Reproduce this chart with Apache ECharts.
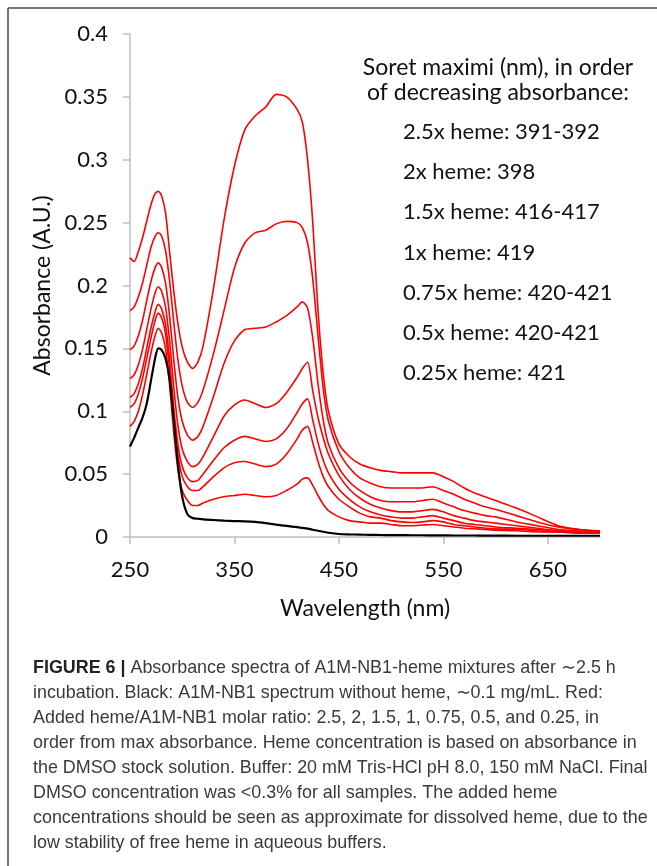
<!DOCTYPE html>
<html>
<head>
<meta charset="utf-8">
<script src="https://cdn.jsdelivr.net/npm/echarts@6/dist/echarts.min.js"></script>
<style>
  html, body { margin: 0; padding: 0; background: #fff; }
  #chart { width: 657px; height: 866px; }
</style>
</head>
<body>
<div id="chart"></div>
<script>
const wavelengths = [250,254,258,262,266,270,274,277,280,284,288,292,296,300,305,310,315,320,330,340,350,360,370,380,390,400,410,415,420,425,430,435,440,450,460,470,480,490,500,510,520,530,540,550,560,570,580,590,600,620,640,660,680,700];

const noHeme = [0.072,0.079,0.087,0.095,0.106,0.124,0.142,0.150,0.149,0.142,0.125,0.092,0.057,0.032,0.018,0.015,0.0145,0.014,0.0135,0.013,0.0127,0.0125,0.012,0.011,0.0098,0.0088,0.0078,0.0072,0.0066,0.0058,0.005,0.0042,0.0034,0.0024,0.0021,0.0019,0.0017,0.0016,0.0015,0.0015,0.0014,0.0014,0.0013,0.0013,0.0012,0.0012,0.0012,0.0011,0.0011,0.001,0.001,0.001,0.001,0.001];

const heme2_5x = [0.222,0.219,0.227,0.238,0.251,0.264,0.273,0.275,0.272,0.258,0.226,0.195,0.169,0.151,0.139,0.134,0.139,0.152,0.198,0.252,0.295,0.324,0.335,0.342,0.352,0.350,0.340,0.330,0.300,0.250,0.180,0.130,0.100,0.074,0.064,0.058,0.055,0.053,0.052,0.051,0.051,0.051,0.051,0.048,0.044,0.039,0.035,0.032,0.029,0.023,0.016,0.009,0.006,0.004];

const heme2x = [0.180,0.183,0.191,0.202,0.216,0.230,0.239,0.242,0.240,0.228,0.203,0.170,0.140,0.120,0.107,0.103,0.107,0.117,0.146,0.180,0.214,0.234,0.242,0.244,0.249,0.251,0.250,0.246,0.234,0.205,0.160,0.118,0.092,0.068,0.055,0.047,0.043,0.040,0.039,0.039,0.039,0.039,0.040,0.037,0.034,0.030,0.027,0.024,0.022,0.017,0.012,0.008,0.006,0.005];

const heme1_5x = [0.149,0.152,0.160,0.172,0.188,0.203,0.214,0.218,0.215,0.202,0.175,0.140,0.110,0.092,0.081,0.077,0.080,0.088,0.112,0.138,0.156,0.165,0.166,0.167,0.171,0.176,0.183,0.187,0.182,0.158,0.122,0.093,0.074,0.055,0.044,0.037,0.032,0.029,0.028,0.028,0.028,0.029,0.030,0.027,0.024,0.021,0.019,0.017,0.016,0.012,0.009,0.006,0.005,0.004];

const heme1x = [0.126,0.129,0.137,0.149,0.165,0.181,0.194,0.199,0.196,0.183,0.155,0.118,0.088,0.070,0.060,0.056,0.058,0.064,0.080,0.096,0.105,0.109,0.106,0.103,0.106,0.115,0.127,0.134,0.139,0.116,0.095,0.079,0.066,0.049,0.038,0.031,0.026,0.023,0.021,0.020,0.020,0.021,0.022,0.020,0.017,0.015,0.013,0.012,0.011,0.009,0.007,0.005,0.004,0.004];

const heme0_75x = [0.111,0.114,0.122,0.134,0.150,0.166,0.179,0.185,0.182,0.169,0.140,0.102,0.073,0.056,0.047,0.044,0.045,0.050,0.061,0.071,0.077,0.080,0.078,0.076,0.078,0.086,0.099,0.106,0.110,0.093,0.075,0.061,0.051,0.038,0.030,0.024,0.020,0.0175,0.016,0.015,0.015,0.016,0.017,0.015,0.013,0.011,0.010,0.009,0.008,0.007,0.006,0.005,0.004,0.004];

const heme0_5x = [0.103,0.106,0.114,0.126,0.142,0.158,0.172,0.178,0.175,0.162,0.132,0.094,0.065,0.048,0.040,0.037,0.037,0.040,0.048,0.055,0.059,0.060,0.058,0.056,0.058,0.066,0.078,0.085,0.088,0.075,0.060,0.048,0.040,0.030,0.024,0.019,0.016,0.015,0.013,0.012,0.0115,0.012,0.013,0.012,0.010,0.009,0.008,0.007,0.0065,0.006,0.005,0.004,0.004,0.003];

const heme0_25x = [0.088,0.092,0.100,0.113,0.129,0.146,0.160,0.166,0.163,0.150,0.120,0.082,0.053,0.037,0.029,0.025,0.025,0.027,0.030,0.032,0.033,0.034,0.033,0.032,0.033,0.037,0.042,0.046,0.047,0.041,0.033,0.026,0.021,0.016,0.013,0.012,0.011,0.011,0.010,0.009,0.009,0.0095,0.010,0.009,0.008,0.007,0.0065,0.006,0.0055,0.005,0.004,0.004,0.003,0.003];

const xTicks = [250, 350, 450, 550, 650];
const yTicks = [0, 0.05, 0.1, 0.15, 0.2, 0.25, 0.3, 0.35, 0.4];

const annotationHead = ['Soret maximi (nm), in order', 'of decreasing absorbance:'];
const annotationLines = ['2.5x heme: 391-392', '2x heme: 398', '1.5x heme: 416-417', '1x heme: 419', '0.75x heme: 420-421', '0.5x heme: 420-421', '0.25x heme: 421'];

const captionBold = 'FIGURE 6 |';
const captionLines = [
  ' Absorbance spectra of A1M-NB1-heme mixtures after \u223c2.5 h',
  'incubation. Black: A1M-NB1 spectrum without heme, \u223c0.1 mg/mL. Red:',
  'Added heme/A1M-NB1 molar ratio: 2.5, 2, 1.5, 1, 0.75, 0.5, and 0.25, in',
  'order from max absorbance. Heme concentration is based on absorbance in',
  'the DMSO stock solution. Buffer: 20 mM Tris-HCl pH 8.0, 150 mM NaCl. Final',
  'DMSO concentration was <0.3% for all samples. The added heme',
  'concentrations should be seen as approximate for dissolved heme, due to the',
  'low stability of free heme in aqueous buffers.'
];

const redSeries = [heme2_5x, heme2x, heme1_5x, heme1x, heme0_75x, heme0_5x, heme0_25x];
const redNames = ['2.5x heme', '2x heme', '1.5x heme', '1x heme', '0.75x heme', '0.5x heme', '0.25x heme'];

function pairs(vals) { return wavelengths.map((w, i) => [w, vals[i]]); }

const series = redSeries.map((vals, i) => ({
  name: redNames[i], type: 'line', data: pairs(vals), showSymbol: false,
  smooth: 0.25,
  lineStyle: { color: '#ff0000', width: 1.6 }, z: 2
}));
series.push({
  name: 'no heme', type: 'line', data: pairs(noHeme), showSymbol: false,
  smooth: 0.25,
  lineStyle: { color: '#000000', width: 2.2 }, z: 3
});

const FONT = 'Lato';
const graphic = [];
graphic.push({ type: 'line', shape: { x1: 8, y1: 8, x2: 660, y2: 8 }, style: { stroke: '#4a4a4a', lineWidth: 1.5 }, silent: true });
graphic.push({ type: 'line', shape: { x1: 8, y1: 8, x2: 8, y2: 870 }, style: { stroke: '#4a4a4a', lineWidth: 1.5 }, silent: true });

const headY = [68, 93];
annotationHead.forEach((t, i) => {
  graphic.push({ type: 'text', x: 498, y: headY[i], style: { text: t, font: '23px ' + FONT, fill: '#111', align: 'center', verticalAlign: 'middle' } });
});
annotationLines.forEach((t, i) => {
  graphic.push({ type: 'text', x: 403, y: 132 + i * 40.2, style: { text: t, font: '22px ' + FONT, fill: '#111', align: 'left', verticalAlign: 'middle' } });
});

captionLines.forEach((t, i) => {
  const txt = i === 0 ? '{b|' + captionBold + '}' + t : t;
  graphic.push({ type: 'text', x: 33, y: 668 + i * 25, style: {
    text: txt, font: '17.9px "Liberation Sans"', fill: '#3a3a3a', align: 'left', verticalAlign: 'middle',
    rich: { b: { fontWeight: 'bold', fontSize: 17.9, fontFamily: 'Liberation Sans', fill: '#222' } }
  } });
});

const chart = echarts.init(document.getElementById('chart'), null, { renderer: 'canvas' });
chart.setOption({
  animation: false,
  backgroundColor: '#ffffff',
  grid: { left: 130, top: 34, width: 470, height: 503 },
  xAxis: {
    type: 'value', min: 250, max: 700, interval: 100,
    name: 'Wavelength (nm)', nameLocation: 'middle', nameGap: 60,
    nameTextStyle: { fontFamily: FONT, fontSize: 23, color: '#111' },
    axisLine: { show: true, lineStyle: { color: '#bfbfbf', width: 1.5 } },
    axisTick: { show: true, length: 7, lineStyle: { color: '#bfbfbf', width: 1.5 }, customValues: xTicks },
    axisLabel: { fontFamily: FONT, fontSize: 22, color: '#111', margin: 22, customValues: xTicks },
    splitLine: { show: false }
  },
  yAxis: {
    type: 'value', min: 0, max: 0.4, interval: 0.05,
    name: 'Absorbance (A.U.)', nameLocation: 'middle', nameGap: 76, nameRotate: 90,
    nameTextStyle: { fontFamily: FONT, fontSize: 23, color: '#111' },
    axisLine: { show: true, lineStyle: { color: '#bfbfbf', width: 1.5 } },
    axisTick: { show: true, length: 7, lineStyle: { color: '#bfbfbf', width: 1.5 } },
    axisLabel: { fontFamily: FONT, fontSize: 22, color: '#111', margin: 22, customValues: yTicks },
    splitLine: { show: false }
  },
  series: series,
  graphic: graphic
});
</script>
</body>
</html>
